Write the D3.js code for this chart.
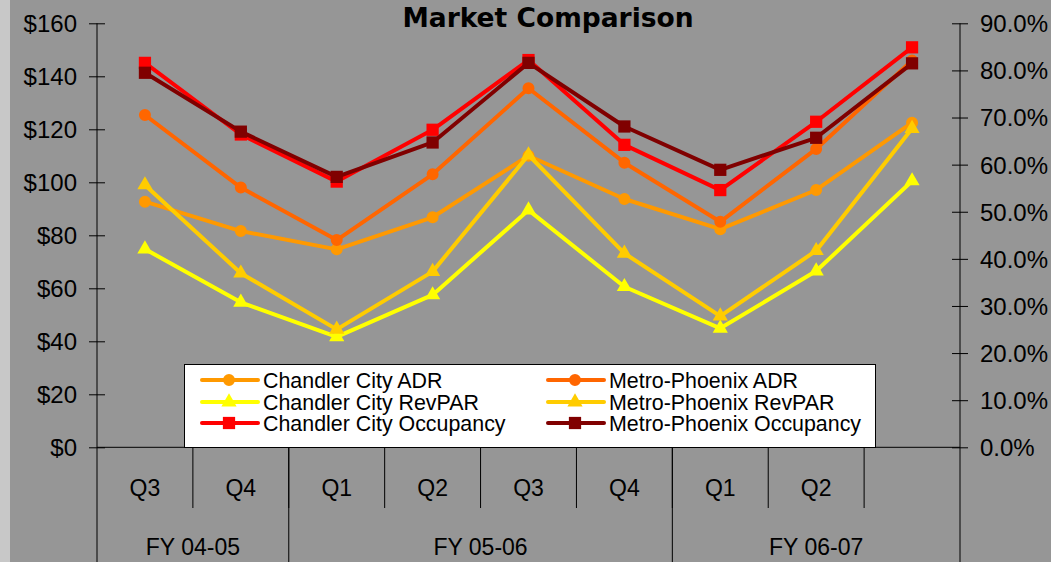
<!DOCTYPE html>
<html>
<head>
<meta charset="utf-8">
<script src="https://cdn.jsdelivr.net/npm/d3@7"></script>
<style>
  body { margin: 0; background: #969696; }
  svg text { font-family: "Liberation Sans", Arial, sans-serif; fill: #000; }
</style>
</head>
<body>
<div id="chart"></div>
<script>
const WIDTH = 1051;
const HEIGHT = 562;

// categorias (trimestres) y años fiscales
const quarters = ["Q3", "Q4", "Q1", "Q2", "Q3", "Q4", "Q1", "Q2", ""];
const fiscalYears = ["FY 04-05", "FY 05-06", "FY 06-07"];
const fiscalSpans = [[0, 2], [2, 6], [6, 9]];

// series en dolares (eje izquierdo)
const chandlerADR = [92.7, 81.6, 74.7, 86.8, 110.0, 93.7, 82.3, 97.1, 122.5];
const metroADR = [125.4, 98.0, 78.2, 103.0, 135.5, 107.4, 85.1, 112.6, 146.0];
const chandlerRevPAR = [74.8, 54.7, 41.7, 57.5, 89.5, 60.6, 44.9, 66.5, 100.5];
const metroRevPAR = [99.0, 65.7, 44.5, 66.3, 110.3, 73.2, 49.5, 74.2, 120.3];
// series en porcentaje (eje derecho)
const chandlerOcc = [81.6, 66.4, 56.4, 67.4, 82.2, 64.2, 54.6, 69.1, 84.9];
const metroOcc = [79.5, 67.0, 57.4, 64.7, 81.6, 68.1, 58.9, 65.7, 81.5];

const leftTicks = [0, 20, 40, 60, 80, 100, 120, 140, 160];
const rightTicks = [0, 10, 20, 30, 40, 50, 60, 70, 80, 90];

const series = [
    { name: "Chandler City ADR", values: chandlerADR, axis: "left", color: "#ff9900", symbol: d3.symbolCircle, size: 113 },
    { name: "Metro-Phoenix ADR", values: metroADR, axis: "left", color: "#ff6600", symbol: d3.symbolCircle, size: 113 },
    { name: "Chandler City RevPAR", values: chandlerRevPAR, axis: "left", color: "#ffff00", symbol: d3.symbolTriangle, size: 100 },
    { name: "Metro-Phoenix RevPAR", values: metroRevPAR, axis: "left", color: "#ffcc00", symbol: d3.symbolTriangle, size: 100 },
    { name: "Chandler City Occupancy", values: chandlerOcc, axis: "right", color: "#ff0000", symbol: d3.symbolSquare, size: 150 },
    { name: "Metro-Phoenix Occupancy", values: metroOcc, axis: "right", color: "#800000", symbol: d3.symbolSquare, size: 150 }
];

const plot = { left: 97, right: 960, top: 23.3, bottom: 447.3 };

const svg = d3.select("#chart")
    .append("svg")
    .attr("width", WIDTH)
    .attr("height", HEIGHT);

svg.append("rect").attr("width", WIDTH).attr("height", HEIGHT).attr("fill", "#969696");
svg.append("rect").attr("width", 10).attr("height", HEIGHT).attr("fill", "#c8c8c8");

const x = d3.scaleBand()
    .domain(d3.range(quarters.length))
    .range([plot.left, plot.right]);

const yLeft = d3.scaleLinear().domain([0, 160]).range([plot.bottom, plot.top]);
const yRight = d3.scaleLinear().domain([0, 90]).range([plot.bottom, plot.top]);

// titulo
svg.append("text")
    .attr("x", 548)
    .attr("y", 27)
    .attr("text-anchor", "middle")
    .style("font-family", "'DejaVu Sans', Verdana, sans-serif")
    .style("font-weight", "bold")
    .style("font-size", "26.5px")
    .text("Market Comparison");

// eje izquierdo
const gLeft = svg.append("g")
    .attr("transform", `translate(${plot.left},0)`)
    .call(d3.axisLeft(yLeft).tickValues(leftTicks).tickSize(8).tickFormat(d => "$" + d));
gLeft.select(".domain").remove();
gLeft.selectAll(".tick line").attr("x1", -8).attr("x2", 8).attr("stroke", "#000");
gLeft.selectAll(".tick text").attr("x", -20).attr("dy", "0.35em").style("font-size", "24px");
svg.append("line")
    .attr("x1", plot.left).attr("x2", plot.left)
    .attr("y1", plot.top).attr("y2", HEIGHT)
    .attr("stroke", "#000");

// eje derecho
const gRight = svg.append("g")
    .attr("transform", `translate(${plot.right},0)`)
    .call(d3.axisRight(yRight).tickValues(rightTicks).tickSize(8).tickFormat(d => d.toFixed(1) + "%"));
gRight.select(".domain").remove();
gRight.selectAll(".tick line").attr("x1", -8).attr("x2", 8).attr("stroke", "#000");
gRight.selectAll(".tick text").attr("x", 20).attr("dy", "0.35em").style("font-size", "24px");
svg.append("line")
    .attr("x1", plot.right).attr("x2", plot.right)
    .attr("y1", plot.top).attr("y2", HEIGHT)
    .attr("stroke", "#000");

// eje x con dos niveles
svg.append("line")
    .attr("x1", plot.left).attr("x2", plot.right)
    .attr("y1", plot.bottom).attr("y2", plot.bottom)
    .attr("stroke", "#000");

svg.selectAll(".cat-sep")
    .data(d3.range(1, quarters.length))
    .enter().append("line")
    .attr("class", "cat-sep")
    .attr("x1", d => x(d)).attr("x2", d => x(d))
    .attr("y1", plot.bottom).attr("y2", 508)
    .attr("stroke", "#000");

svg.selectAll(".group-sep")
    .data(fiscalSpans.slice(1))
    .enter().append("line")
    .attr("class", "group-sep")
    .attr("x1", d => x(d[0])).attr("x2", d => x(d[0]))
    .attr("y1", plot.bottom).attr("y2", HEIGHT)
    .attr("stroke", "#000");

svg.selectAll(".cat-label")
    .data(quarters)
    .enter().append("text")
    .attr("class", "cat-label")
    .attr("x", (d, i) => x(i) + x.bandwidth() / 2)
    .attr("y", 496)
    .attr("text-anchor", "middle")
    .style("font-size", "23px")
    .text(d => d);

svg.selectAll(".fy-label")
    .data(fiscalYears)
    .enter().append("text")
    .attr("class", "fy-label")
    .attr("x", (d, i) => (x(fiscalSpans[i][0]) + (fiscalSpans[i][1] < quarters.length ? x(fiscalSpans[i][1]) : plot.right)) / 2)
    .attr("y", 555)
    .attr("text-anchor", "middle")
    .style("font-size", "23px")
    .text(d => d);

const legendRows = [
    [series[0], series[1]],
    [series[2], series[3]],
    [series[4], series[5]]
];

// lineas
const lineGroup = svg.append("g");
series.forEach(s => {
    const yScale = s.axis === "left" ? yLeft : yRight;
    const line = d3.line()
        .x((d, i) => x(i) + x.bandwidth() / 2)
        .y(d => yScale(d));

    lineGroup.append("path")
        .datum(s.values)
        .attr("fill", "none")
        .attr("stroke", s.color)
        .attr("stroke-width", 4)
        .attr("stroke-linejoin", "round")
        .attr("d", line);

    lineGroup.selectAll(null)
        .data(s.values)
        .enter().append("path")
        .attr("transform", (d, i) => `translate(${x(i) + x.bandwidth() / 2},${yScale(d)})`)
        .attr("d", d3.symbol().type(s.symbol).size(s.size))
        .attr("fill", s.color);
});

// leyenda
const legend = svg.append("g").attr("class", "legend");
legend.append("rect")
    .attr("x", 184.5).attr("y", 364.5)
    .attr("width", 691).attr("height", 83)
    .attr("fill", "#fff")
    .attr("stroke", "#000");

const colX = [202, 548];
const rowY = [380, 402, 423];
legendRows.forEach((row, r) => {
    row.forEach((s, c) => {
        const g = legend.append("g").attr("transform", `translate(${colX[c]},${rowY[r]})`);
        g.append("line")
            .attr("x1", 0).attr("x2", 56)
            .attr("stroke", s.color)
            .attr("stroke-width", 4)
            .attr("stroke-linecap", "round");
        g.append("path")
            .attr("transform", "translate(27,0)")
            .attr("d", d3.symbol().type(s.symbol).size(s.size))
            .attr("fill", s.color);
        g.append("text")
            .attr("x", 61)
            .attr("dy", "0.35em")
            .style("font-size", "21.4px")
            .text(s.name);
    });
});
</script>
</body>
</html>
